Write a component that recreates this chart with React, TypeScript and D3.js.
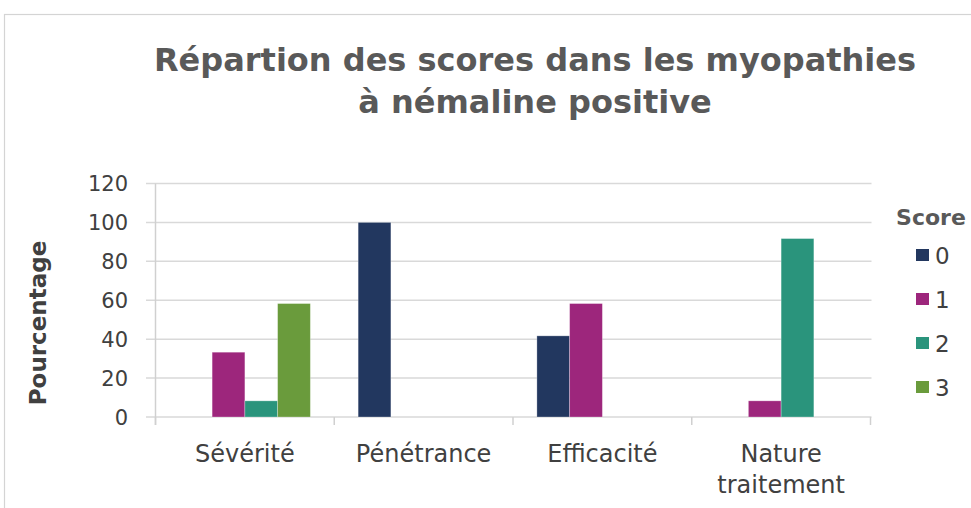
import React from "react";
import * as d3 from "d3";

const categories = ["Sévérité", "Pénétrance", "Efficacité", "Nature traitement"];
const seriesNames = ["0", "1", "2", "3"];
const score0 = [0, 100, 41.7, 0];
const score1 = [33.3, 0, 58.3, 8.3];
const score2 = [8.3, 0, 0, 91.7];
const score3 = [58.3, 0, 0, 0];
const yTicks = [0, 20, 40, 60, 80, 100, 120];
const colors = ["#22375F", "#9D267C", "#2A947C", "#6A9B3C"];
const titleLines = ["Répartion des scores dans les myopathies", "à némaline positive"];

const W = 971;
const H = 508;
const FONT = "'DejaVu Sans', sans-serif";

export default function App() {
  const series = [score0, score1, score2, score3];
  const left = 155.5;
  const right = 870.5;
  const top = 183.5;
  const bottom = 417;

  const x = d3.scaleBand<string>().domain(categories).range([left, right]).paddingInner(0).paddingOuter(0);
  const inner = d3.scaleBand<string>().domain(seriesNames).range([0, x.bandwidth()]).paddingInner(0).paddingOuter(0.73);
  const y = d3.scaleLinear().domain([0, 120]).range([bottom, top]);

  const catTicks = [...categories.map((c) => x(c) as number), right];

  return (
    <svg width={W} height={H} style={{ position: "absolute", left: 0, top: 0, background: "#fff" }}>
      <rect x={4.5} y={14.5} width={1000} height={600} fill="#fff" stroke="#d4d4d4" strokeWidth={1.2} />
      {titleLines.map((t, i) => (
        <text key={i} x={535} y={71 + i * 42} textAnchor="middle" fontFamily={FONT} fontWeight="bold" fontSize={32} fill="#595959">
          {t}
        </text>
      ))}
      {yTicks.map((t) => (
        <g key={t}>
          <line x1={146} x2={right + 1} y1={y(t)} y2={y(t)} stroke="#d9d9d9" strokeWidth={1.5} />
          <text x={128} y={y(t)} dy="0.37em" textAnchor="end" fontFamily={FONT} fontSize={21} fill="#404040">
            {t}
          </text>
        </g>
      ))}
      <line x1={left} x2={left} y1={top} y2={bottom + 8} stroke="#d0d0d0" strokeWidth={1.5} />
      {catTicks.map((cx, i) => (
        <line key={i} x1={cx} x2={cx} y1={bottom} y2={bottom + 8} stroke="#d0d0d0" strokeWidth={1.5} />
      ))}
      {categories.map((c, ci) => (
        <g key={c}>
          {series.map((s, si) =>
            s[ci] > 0 ? (
              <rect
                key={si}
                x={(x(c) as number) + (inner(seriesNames[si]) as number)}
                y={y(s[ci])}
                width={inner.bandwidth()}
                height={bottom - y(s[ci])}
                fill={colors[si]}
                stroke="#ffffff"
                strokeOpacity={0.35}
                strokeWidth={0.8}
              />
            ) : null
          )}
        </g>
      ))}
      {categories.map((c) => {
        const words = c === "Nature traitement" ? ["Nature", "traitement"] : [c];
        return (
          <text key={c} textAnchor="middle" fontFamily={FONT} fontSize={24} fill="#404040">
            {words.map((w, i) => (
              <tspan key={i} x={(x(c) as number) + x.bandwidth() / 2} y={462 + i * 31}>
                {w}
              </tspan>
            ))}
          </text>
        );
      })}
      <text
        transform={`translate(46, 323) rotate(-90)`}
        textAnchor="middle"
        fontFamily={FONT}
        fontWeight="bold"
        fontSize={23}
        fill="#404040"
      >
        Pourcentage
      </text>
      <text x={931} y={225} textAnchor="middle" fontFamily={FONT} fontWeight="bold" fontSize={22} fill="#595959">
        Score
      </text>
      {seriesNames.map((n, i) => (
        <g key={n}>
          <rect x={916} y={249 + i * 44} width={13} height={12} fill={colors[i]} />
          <text x={935} y={255 + i * 44} dy="0.37em" fontFamily={FONT} fontSize={23} fill="#404040">
            {n}
          </text>
        </g>
      ))}
    </svg>
  );
}
